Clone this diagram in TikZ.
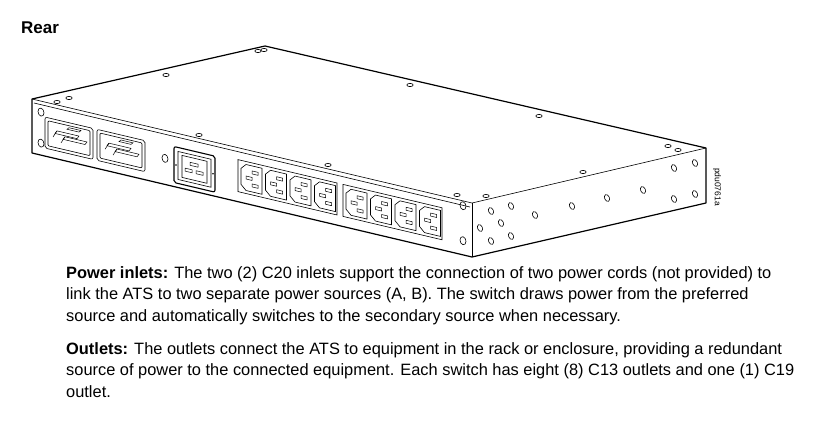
\documentclass[tikz,border=0pt]{standalone}
\usepackage{fontspec}
\setmainfont{Liberation Sans}
\usetikzlibrary{positioning}

\def\facebox#1#2#3#4{(#1,#2) -- ++(#3,0) -- ++(0,#4) -- ++(-#3,0) -- cycle}

\begin{document}
\begin{tikzpicture}[x=1pt,y=-1pt]
	\tikzset{
		outline/.style={draw,line width=1.2pt,line join=round},
		thin/.style={draw,line width=0.6pt},
		screw/.style={draw,line width=0.6pt,fill=white},
		slot/.style={draw,line width=0.5pt},
		para/.style={anchor=north west,align=left,font=\fontsize{16.4}{21.5}\selectfont,inner sep=0pt}
	}
	\useasboundingbox (0,0) rectangle (826,423);

	%% Chassis
	\coordinate (ftl) at (32,99);
	\coordinate (fbl) at (32,153);
	\coordinate (ftr) at (472,203);
	\coordinate (fbr) at (472,257);
	\coordinate (btl) at (265,46);
	\coordinate (btr) at (706,148);
	\coordinate (bbr) at (706,203);
	\draw[outline] (fbl) -- (ftl) -- (btl) -- (btr) -- (bbr) -- (fbr) -- cycle;
	\draw[thin] (ftl) -- (ftr) -- (btr);
	\draw[thin] (ftr) -- (fbr);
	\draw[thin] (34,103) -- (470,207);

	%% Screws on the top
	\foreach \sx/\sy in {258/51,264/50,166/75,57/102,69/98,199/135,328/165,410/85,539/116,668/146,678/150,583/172,457/195,486/196}
		\draw[screw] (\sx,\sy) ellipse [x radius=3.2,y radius=1.6];

	%% Front face
	\begin{scope}[shift={(32,99)},x={(1pt,-0.236pt)},y={(0pt,-1pt)}]
		% mounting holes
		\foreach \hu/\hv in {9/11,9/42,133/28,431/5,431/40}
			\draw[thin] (\hu,\hv) ellipse [x radius=3,y radius=4];
		% C20 inlets
		\foreach \iu in {13,65} {
			\draw[thin,rounded corners=2pt] \facebox{\iu}{15}{48}{31};
			\draw[thin,rounded corners=1pt] \facebox{\iu+3}{18}{42}{25};
			\foreach \k in {0,1} {
				\draw[slot] (\iu+10+\k*8,29+\k*4) -- ++(22,0) -- ++(2,-3) -- ++(-22,0) -- cycle;
				\draw[slot] (\iu+12+\k*8,26+\k*4) -- ++(-4,7);
			}
			\draw[slot] (\iu+22,22) -- ++(12,0) -- ++(2,-2) -- ++(-12,0) -- cycle;
		}
		% C19 outlet
		\draw[line width=1.1pt,rounded corners=2pt] \facebox{142}{14}{41}{36};
		\draw[thin] \facebox{146}{18}{33}{28};
		\draw[thin] \facebox{150}{21}{25}{22};
		\draw[slot] \facebox{158}{26}{8}{3};
		\draw[slot] \facebox{153}{33}{7}{3};
		\draw[slot] \facebox{164}{33}{7}{3};
		\fill (144,32) circle (0.8pt) (181,32) circle (0.8pt);
		% C13 outlet groups
		\foreach \gu in {206,311} {
			\draw[thin] \facebox{\gu}{12}{99}{32};
			\foreach \k in {0,...,3} {
				\pgfmathsetmacro{\ou}{\gu+3+\k*24.5}
				\draw[thin] (\ou+5,15) -- (\ou+21,15) -- (\ou+21,41) -- (\ou+5,41) -- (\ou,36) -- (\ou,20) -- cycle;
				\draw[slot] \facebox{\ou+11}{20}{6}{3};
				\draw[slot] \facebox{\ou+5}{26.5}{6}{3};
				\draw[slot] \facebox{\ou+11}{33}{6}{3};
			}
		}
	\end{scope}

	%% Holes on the side
	\foreach \hx/\hy in {491/211,511/206,480/228,501/223,491/241,511/236,535/215,572/206,607/198,643/190,674/168,695/163,674/199,695/194}
		\draw[thin,rotate around={25:(\hx,\hy)}] (\hx,\hy) ellipse [x radius=2.4,y radius=3.6];

	%% Labels
	\node[anchor=base west,inner sep=0pt,font=\fontsize{17}{20}\selectfont\bfseries] (rear) at (21,33) {Rear};
	\node[rotate=-90,inner sep=0pt,font=\fontsize{8.5}{9}\selectfont] (code) at (717,187) {pdu0761a};

	\node[para] (inlets) at (66,266) {\textbf{Power inlets:} The two (2) C20 inlets support the connection of two power cords (not provided) to\\
		link the ATS to two separate power sources (A, B). The switch draws power from the preferred\\
		source and automatically switches to the secondary source when necessary.};
	\node[para] (outlets) at (66,342) {\textbf{Outlets:} The outlets connect the ATS to equipment in the rack or enclosure, providing a redundant\\
		source of power to the connected equipment. Each switch has eight (8) C13 outlets and one (1) C19\\
		outlet.};
\end{tikzpicture}
\end{document}
